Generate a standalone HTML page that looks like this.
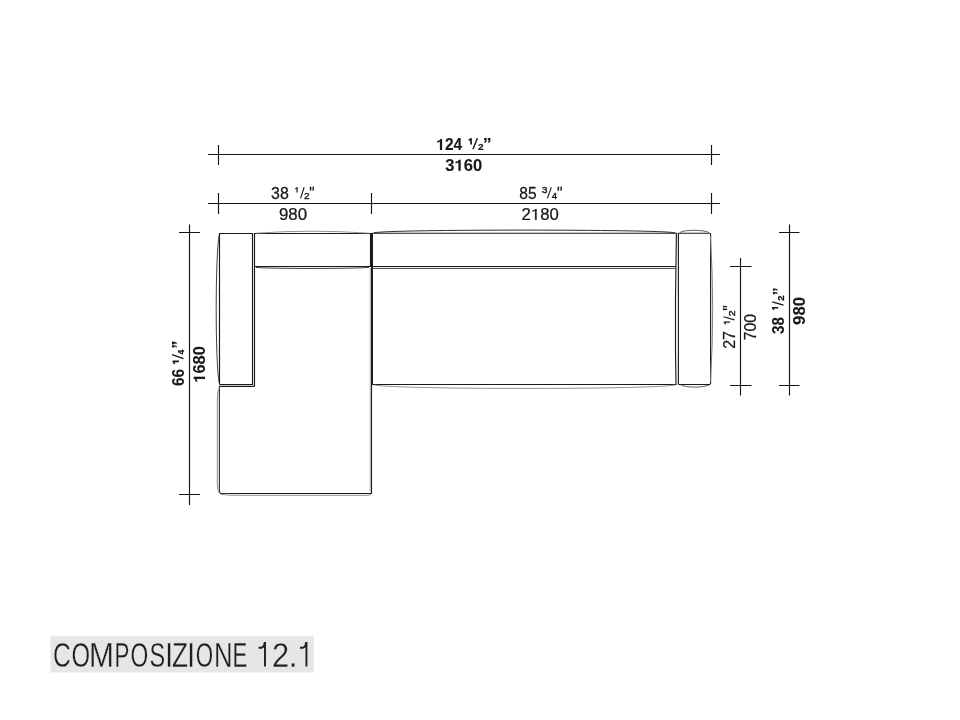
<!DOCTYPE html>
<html><head><meta charset="utf-8">
<style>
html,body{margin:0;padding:0;background:#fff;width:960px;height:720px;overflow:hidden}
svg{position:absolute;left:0;top:0}
text{font-family:"Liberation Sans",sans-serif;font-size:16px;fill:#1a1a1a;stroke:#1a1a1a;stroke-width:0.25px}
.b{stroke-width:0.1px}
.g1{fill:#1a1a1a;stroke:#1a1a1a;stroke-width:0.25px}
.g1.b{stroke-width:0.1px}
#tx{filter:grayscale(1)}
#cap text{font-size:35.4px;fill:#1e1e1e;stroke:#e6e6e8;stroke-width:0.3px}
.b{font-weight:bold}
.s{stroke-width:0.7px}
.s.b{stroke-width:0.45px}
</style></head>
<body>
<svg width="960" height="720" viewBox="0 0 960 720">
<g stroke="#141414" stroke-width="1.15" fill="none">
  <path d="M208 154.5H720M218.5 145V165M711.5 145V165"/>
  <path d="M208 203.5H720M218.5 193V214M371.5 193V214M711.5 193V214"/>
  <path d="M189.5 224.5V505M179 232.5H200M179 494.5H200"/>
  <path d="M740.5 258V395.5M730 266.5H751.5M730 385.5H751.5"/>
  <path d="M789.5 224.5V395.5M779 232.5H799.5M779 385.5H799.5"/>
</g>
<g stroke="#1a1a1a" stroke-width="1.15" fill="none">
  <!-- chaise armrest -->
  <path d="M219.5 384.5V233.5H252.5V384.5H219.5"/>
  <path d="M219.2 235C215.2 255 215.2 363 219.2 383" stroke="#333" stroke-width="0.95"/>
  <path d="M219 386.3H254.5"/>
  <!-- chaise backrest / seat -->
  <path d="M254.5 386.5V233.5H370.8"/>
  <path d="M256 233.2Q312 229.2 369 233.2" stroke="#888" stroke-width="0.9"/>
  <path d="M254.5 266.5H370.5"/>
  <path d="M256 267.4C270 268.8 354 268.8 369 267.4" stroke="#333" stroke-width="0.95"/>
  <path d="M371.5 233V493.5"/>
  <path d="M370.5 233.5V267"/>
  <path d="M370.2 268V492" stroke="#aaa" stroke-width="1"/>
  <!-- chaise lower part -->
  <path d="M219.4 387V491Q219.4 493.5 221.5 493.5H371.5" stroke="#333"/>
  <path d="M371.5 493.5H230"/>
  <path d="M219 388.5Q217.3 392 217.3 400V484Q217.3 490 219.2 492.8" stroke="#888" stroke-width="0.95"/>
  <path d="M220.5 494.2Q226 495.3 236 495.3H368Q370 495.3 371 494.2" stroke="#888" stroke-width="0.95"/>
  <!-- middle section -->
  <path d="M372.4 233V384.5H676L675.5 350V300L676.4 233.2H372"/>
  <path d="M374 232.8C388 229.2 658 229.2 675 232.8" stroke="#222" stroke-width="0.95"/>
  <path d="M372.5 266.5H676"/>
  <path d="M373 268.4H675.5" stroke="#3a3a3a" stroke-width="0.95"/>
  <path d="M374 385C400 389.6 650 389.6 675 385" stroke="#888" stroke-width="0.9"/>
  <!-- right armrest -->
  <path d="M678.4 384.5V233.2H709.5Q710.6 233.2 710.6 234.5V383Q710.6 384.5 709.5 384.5H678.4"/>
  <path d="M680 232.5C684 229.6 704 229.6 709 232.5" stroke="#555" stroke-width="0.95"/>
  <path d="M681 385C686 387.8 703 387.8 709 385" stroke="#555" stroke-width="0.95"/>
  <path d="M710.4 236Q715 310 710.4 382" stroke="#777" stroke-width="0.95"/>
</g>

<g id="tx">
<g transform="translate(436.32 149.90) scale(0.9688 0.9939)"><text class="b"> 24</text><path d="M5.92 0.00L5.92 -11.01L4.19 -11.01Q3.76 -9.20 0.96 -8.96L0.96 -7.44Q2.72 -7.52 3.73 -8.32L3.73 0.00Z" class="g1 b"/></g>
<path d="M471.05 144.60V138.20M471.15 138.85L468.81 140.18" stroke="#1a1a1a" stroke-width="1.7" fill="none"/>
<path d="M472.925 149.29999999999998L477.375 138.20000000000002" stroke="#1a1a1a" stroke-width="1.45" fill="none"/>
<text class="b s" transform="translate(477.95 149.60) scale(0.6237 0.5552)">2</text>
<text class="b" transform="translate(482.68 149.59) scale(1.1186 1.0527)">”</text>
<g transform="translate(445.32 170.72) scale(1.0359 0.9961)"><text class="b">3 60</text><path d="M14.82 0.00L14.82 -11.01L13.09 -11.01Q12.66 -9.20 9.86 -8.96L9.86 -7.44Q11.62 -7.52 12.62 -8.32L12.62 0.00Z" class="g1 b"/></g>
<text transform="translate(271.10 198.94) scale(0.9942 1.0064)">38</text>
<path d="M297.07 192.60V187.00M297.18 187.43L295.18 188.71" stroke="#1a1a1a" stroke-width="1.25" fill="none"/>
<path d="M300.575 198.39999999999998L304.125 187.3" stroke="#1a1a1a" stroke-width="1.15" fill="none"/>
<text class="s" transform="translate(303.90 198.70) scale(0.6305 0.5462)">2</text>
<text transform="translate(309.36 198.79) scale(0.9294 1.0706)">&quot;</text>
<text transform="translate(278.91 219.84) scale(1.0548 0.9887)">980</text>
<text transform="translate(519.23 198.94) scale(0.9737 1.0064)">85</text>
<text class="s" transform="translate(541.72 193.01) scale(0.6329 0.5650)">3</text>
<path d="M547.375 198.39999999999998L551.3249999999999 187.4" stroke="#1a1a1a" stroke-width="1.15" fill="none"/>
<text class="s" transform="translate(551.68 199.00) scale(0.6076 0.6086)">4</text>
<text transform="translate(557.03 198.79) scale(0.9758 1.0706)">&quot;</text>
<g transform="translate(521.56 219.84) scale(1.0480 0.9887)"><text>2 80</text><path d="M14.32 0.00L14.32 -11.01L13.30 -11.01Q12.82 -9.60 10.34 -9.36L10.34 -8.40Q11.94 -8.48 12.91 -9.36L12.91 0.00Z" class="g1"/></g>
<text class="b" transform="translate(183.83 385.97) rotate(-90) scale(0.9625 1.0417)">66</text>
<path d="M179.00 361.45H172.60M173.25 361.35L174.58 363.79" stroke="#1a1a1a" stroke-width="1.7" fill="none"/>
<path d="M183.5 358.575L172.05 354.625" stroke="#1a1a1a" stroke-width="1.45" fill="none"/>
<text class="b s" transform="translate(183.80 354.43) rotate(-90) scale(0.5306 0.5814)">4</text>
<text class="b" transform="translate(183.91 348.70) rotate(-90) scale(1.0121 1.0638)">”</text>
<g transform="translate(205.03 382.74) rotate(-90) scale(1.0318 1.0328)"><text class="b"> 680</text><path d="M5.92 0.00L5.92 -11.01L4.19 -11.01Q3.76 -9.20 0.96 -8.96L0.96 -7.44Q2.72 -7.52 3.73 -8.32L3.73 0.00Z" class="g1 b"/></g>
<text transform="translate(735.30 348.80) rotate(-90) scale(1.0005 1.0029)">27</text>
<path d="M730.00 322.23H723.80M724.23 322.12L725.71 324.02" stroke="#1a1a1a" stroke-width="1.25" fill="none"/>
<path d="M734.5 319.925L723.5 316.775" stroke="#1a1a1a" stroke-width="1.15" fill="none"/>
<text class="s" transform="translate(735.00 316.27) rotate(-90) scale(0.6510 0.6089)">2</text>
<text transform="translate(736.26 310.76) rotate(-90) scale(0.9526 1.1863)">&quot;</text>
<text transform="translate(756.13 340.31) rotate(-90) scale(0.9902 1.0328)">700</text>
<text class="b" transform="translate(783.92 333.95) rotate(-90) scale(0.9511 0.9961)">38</text>
<path d="M778.20 307.75H771.95M772.60 307.65L773.88 309.69" stroke="#1a1a1a" stroke-width="1.7" fill="none"/>
<path d="M783.5 305.17499999999995L772.3 301.82500000000005" stroke="#1a1a1a" stroke-width="1.45" fill="none"/>
<text class="b s" transform="translate(784.00 300.83) rotate(-90) scale(0.5977 0.5910)">2</text>
<text class="b" transform="translate(782.69 295.62) rotate(-90) scale(1.0298 0.9530)">”</text>
<text class="b" transform="translate(805.33 324.88) rotate(-90) scale(1.0443 1.0328)">980</text>
</g>
<rect x="50.4" y="636.25" width="263.35" height="36.25" fill="#e6e6e8"/>
<g id="cap" style="filter:grayscale(1)">
<text transform="translate(53.09 666.7) scale(0.6962 1)">C</text>
<text transform="translate(71.42 666.7) scale(0.6762 1)">O</text>
<text transform="translate(89.10 666.7) scale(0.8445 1)">M</text>
<text transform="translate(114.52 666.7) scale(0.6319 1)">P</text>
<text transform="translate(130.58 666.7) scale(0.6452 1)">O</text>
<text transform="translate(149.47 666.7) scale(0.6632 1)">S</text>
<text transform="translate(165.31 666.7) scale(0.7813 1)">I</text>
<text transform="translate(172.11 666.7) scale(0.7423 1)">Z</text>
<text transform="translate(187.31 666.7) scale(0.7813 1)">I</text>
<text transform="translate(195.80 666.7) scale(0.6328 1)">O</text>
<text transform="translate(213.99 666.7) scale(0.7252 1)">N</text>
<text transform="translate(232.53 666.7) scale(0.6280 1)">E</text>
<text transform="translate(272.06 666.7) scale(0.8704 1)">2</text>
<text transform="translate(288.52 666.7) scale(0.9416 1)">.</text>
<path d="M265.0 642.1V666.6M258.6 647.7H261.40000000000003Q264.3 647.3 264.7 642.4" stroke="#1e1e1e" stroke-width="1.9" fill="none"/>
<path d="M306.45 642.1V666.6M300.0 647.7H302.8Q305.75 647.3 306.15 642.4" stroke="#1e1e1e" stroke-width="1.9" fill="none"/>
</g>
</svg>
</body></html>
